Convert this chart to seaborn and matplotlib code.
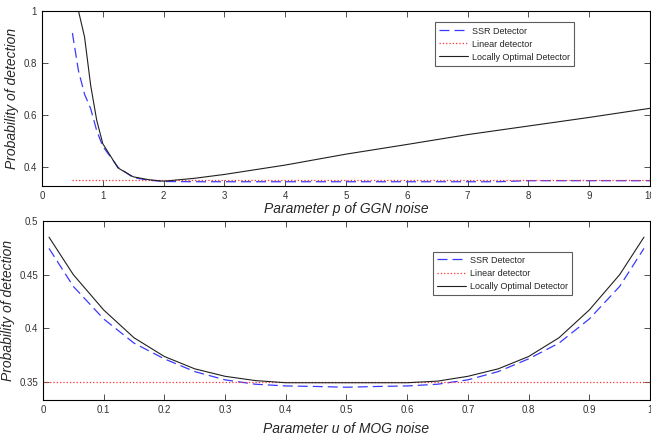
import numpy as np
import pandas as pd
import seaborn as sns
import matplotlib.pyplot as plt

# GGN noise (top panel)
p_vals = [0.5, 0.6, 0.7, 0.8, 0.9, 1.0, 1.25, 1.5, 1.75, 2.0, 2.5, 3.0, 4.0, 5.0, 6.0, 7.0, 7.5, 8.0, 9.0, 10.0]
ssr_ggn = [0.915, 0.77, 0.68, 0.625, 0.54, 0.48, 0.40, 0.36, 0.35, 0.345, 0.344, 0.344, 0.344, 0.344,
           0.344, 0.344, 0.344, 0.348, 0.348, 0.348]
lod_p = [0.6, 0.7, 0.8, 0.9, 1.0, 1.25, 1.5, 1.75, 2.0, 2.5, 3.0, 4.0, 5.0, 6.0, 7.0, 8.0, 9.0, 10.0]
lod_ggn = [1.0, 0.9, 0.715, 0.58, 0.49, 0.397, 0.363, 0.352, 0.346, 0.357, 0.372, 0.408, 0.45, 0.487,
           0.525, 0.558, 0.591, 0.626]
lin_p = [0.5, 10.0]
lin_ggn = [0.35, 0.35]

# MOG noise (bottom panel)
u_vals = [0.01, 0.05, 0.1, 0.15, 0.2, 0.25, 0.3, 0.35, 0.4, 0.45, 0.5, 0.55, 0.6, 0.65, 0.7, 0.75,
          0.8, 0.85, 0.9, 0.95, 0.99]
ssr_mog = [0.4745, 0.439, 0.4086, 0.386, 0.3713, 0.3594, 0.3517, 0.3476, 0.346, 0.3455, 0.3448, 0.3455,
           0.346, 0.3476, 0.3517, 0.3594, 0.3713, 0.386, 0.4086, 0.439, 0.4745]
lod_mog = [0.485, 0.45, 0.417, 0.391, 0.3735, 0.362, 0.355, 0.351, 0.349, 0.349, 0.349, 0.349,
           0.349, 0.3505, 0.355, 0.362, 0.3735, 0.391, 0.417, 0.45, 0.485]
lin_u = [0.0, 1.0]
lin_mog = [0.35, 0.35]

labels = ['SSR Detector', 'Linear detector', 'Locally Optimal Detector']

sns.set_style('white')
plt.rcParams['font.family'] = ['Liberation Sans', 'DejaVu Sans']

fig = plt.figure(figsize=(6.51, 4.37), dpi=100)
ax1 = fig.add_axes([0.0645, 0.574, 0.934, 0.401])
ax2 = fig.add_axes([0.066, 0.085, 0.9325, 0.409])


def draw(ax, x_ssr, y_ssr, x_lin, y_lin, x_lod, y_lod, anchor):
    sns.lineplot(x=x_ssr, y=y_ssr, ax=ax, color='#3a3aff', lw=0.9, label=labels[0])
    ax.lines[-1].set_dashes([8, 4])
    sns.lineplot(x=x_lin, y=y_lin, ax=ax, color='#ff3030', lw=0.9, linestyle=':', label=labels[1])
    sns.lineplot(x=x_lod, y=y_lod, ax=ax, color='#202020', lw=0.8, label=labels[2])
    for s in ax.spines.values():
        s.set_color('black')
        s.set_linewidth(0.8)
        s.set_visible(True)
    ax.tick_params(direction='in', length=4, width=0.6, labelsize=7, colors='#333333',
                   top=True, right=True, bottom=True, left=True)
    leg = ax.legend(fontsize=6.5, frameon=True, fancybox=False, edgecolor='#333333',
                    borderpad=0.45, handlelength=3.2, handletextpad=0.5, labelspacing=0.45,
                    loc='upper center', bbox_to_anchor=anchor)
    leg.get_frame().set_linewidth(0.8)


draw(ax1, p_vals, ssr_ggn, lin_p, lin_ggn, lod_p, lod_ggn, (0.761, 0.96))
ax1.set_xlim(0, 10)
ax1.set_ylim(0.327, 1.0)
ax1.set_xticks(range(0, 11))
ax1.set_yticks([0.4, 0.6, 0.8, 1.0])
ax1.set_yticklabels(['0.4', '0.6', '0.8', '1'])
ax1.set_xlabel('Parameter p of GGN noise', fontsize=10, style='italic', labelpad=1)
ax1.set_ylabel('Probability of detection', fontsize=10, style='italic', labelpad=3)

draw(ax2, u_vals, ssr_mog, lin_u, lin_mog, u_vals, lod_mog, (0.757, 0.855))
ax2.set_xlim(0, 1)
ax2.set_ylim(0.333, 0.5)
ax2.set_xticks([0, 0.1, 0.2, 0.3, 0.4, 0.5, 0.6, 0.7, 0.8, 0.9, 1.0])
ax2.set_xticklabels(['0', '0.1', '0.2', '0.3', '0.4', '0.5', '0.6', '0.7', '0.8', '0.9', '1'])
ax2.set_yticks([0.35, 0.4, 0.45, 0.5])
ax2.set_yticklabels(['0.35', '0.4', '0.45', '0.5'])
ax2.set_xlabel('Parameter u of MOG noise', fontsize=10, style='italic', labelpad=5)
ax2.set_ylabel('Probability of detection', fontsize=10, style='italic', labelpad=3)

fig.savefig('out.png', dpi=100)
